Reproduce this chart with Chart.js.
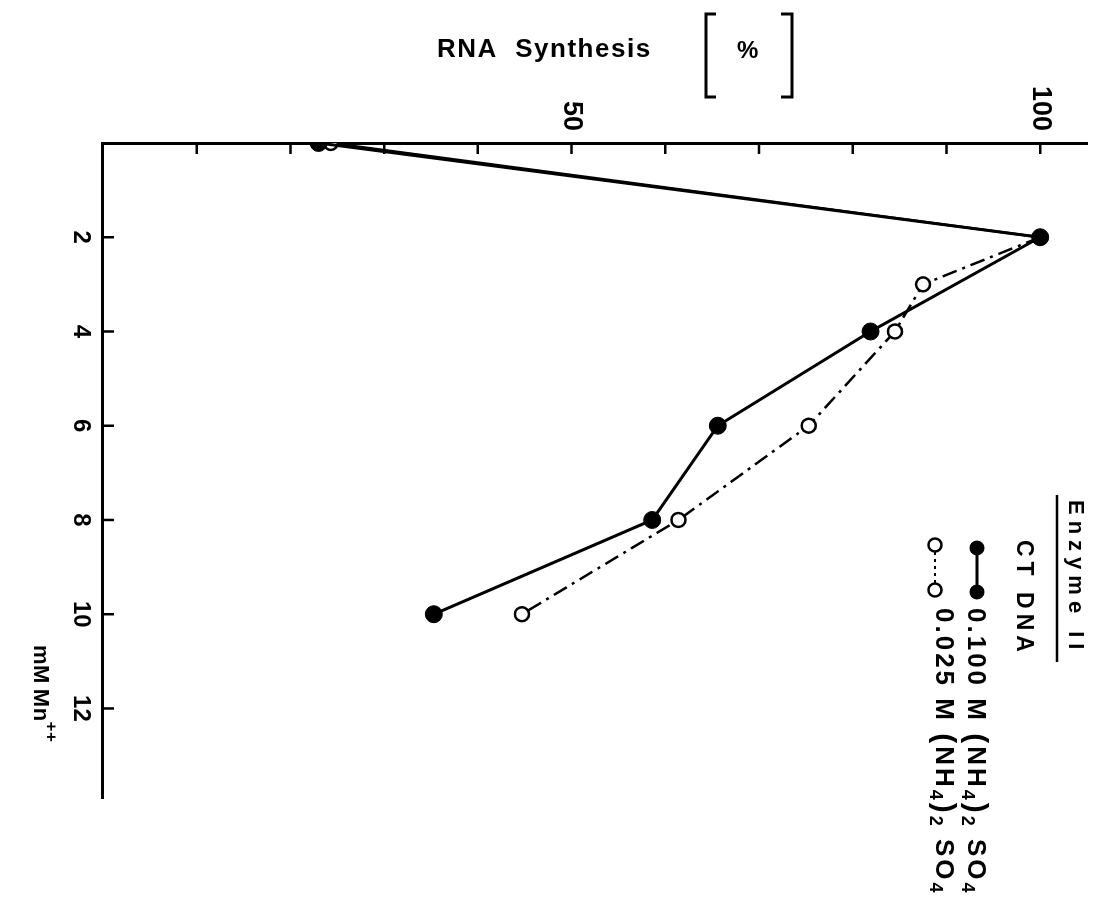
<!DOCTYPE html>
<html>
<head>
<meta charset="utf-8">
<script src="https://cdn.jsdelivr.net/npm/chart.js@4/dist/chart.umd.min.js"></script>
<style>
  html, body { margin: 0; padding: 0; background: #fff; overflow: hidden; }
  /* plot is laid out upright, then turned a quarter clockwise */
  #wrap { position: absolute; left: 0; top: 0; width: 902px; height: 1098px;
          transform-origin: 0 0; transform: translate(1098px, 0) rotate(90deg); }
</style>
</head>
<body>
<div id="wrap"><canvas id="plot" width="902" height="1098"></canvas></div>
<script>
// Mn++ concentration (mM) vs RNA synthesis (%)
const MN_HIGH  = [0, 2, 4, 6, 8, 10];
const RNA_HIGH = [23.0, 100, 81.9, 65.6, 58.6, 35.3];     // 0.100 M (NH4)2SO4
const MN_LOW   = [0, 2, 3, 4, 6, 8, 10];
const RNA_LOW  = [24.3, 100, 87.5, 84.5, 75.3, 61.4, 44.7]; // 0.025 M (NH4)2SO4

const MN_TICKS   = [2, 4, 6, 8, 10, 12];
const RNA_LABELS = [50, 100];
const RNA_MINOR  = [10, 20, 30, 40, 50, 60, 70, 80, 90, 100];

const W = 902, H = 1098;
const FONT = '"Liberation Sans", Arial, sans-serif';
const DASHDOT = [15, 6, 3, 6];

function pts(xs, ys) { return xs.map((v, i) => ({ x: v, y: ys[i] })); }

// draws a row of text runs [text, size, dy], returns end x
function runs(ctx, x, y, parts, spacing) {
  ctx.letterSpacing = (spacing || 0) + 'px';
  for (const [t, size, dy] of parts) {
    ctx.font = `bold ${size}px ${FONT}`;
    ctx.fillText(t, x, y + (dy || 0));
    x += ctx.measureText(t).width;
  }
  ctx.letterSpacing = '0px';
  return x;
}

function dot(ctx, x, y, r, filled) {
  ctx.beginPath();
  ctx.arc(x, y, r, 0, Math.PI * 2);
  if (filled) ctx.fill();
  else { ctx.fillStyle = '#fff'; ctx.fill(); ctx.fillStyle = '#000'; ctx.stroke(); }
}

const decor = {
  id: 'decor',
  afterDraw(chart) {
    const { ctx, scales: { x, y } } = chart;
    ctx.save();
    ctx.strokeStyle = '#000';
    ctx.fillStyle = '#000';

    // tick marks pointing into the plot
    ctx.lineWidth = 2.5;
    ctx.beginPath();
    MN_TICKS.forEach(v => {
      const p = x.getPixelForValue(v);
      ctx.moveTo(p, y.bottom); ctx.lineTo(p, y.bottom - 11);
    });
    RNA_MINOR.forEach(v => {
      const p = y.getPixelForValue(v);
      ctx.moveTo(x.left, p); ctx.lineTo(x.left + 11, p);
    });
    ctx.stroke();

    // x title: mM Mn++
    ctx.textBaseline = 'middle';
    runs(ctx, 645, 1058, [['mM', 22, 0], [' ', 16, 0], ['Mn', 22, 0], ['++', 17, -11]], 0.5);

    // legend
    runs(ctx, 500, 23, [['Enzyme II', 22, 0]], 6);
    ctx.lineWidth = 2.5;
    ctx.beginPath(); ctx.moveTo(495, 41); ctx.lineTo(662, 41); ctx.stroke();
    runs(ctx, 540, 75, [['CT DNA', 23, 0]], 5);

    ctx.lineWidth = 3;
    ctx.beginPath(); ctx.moveTo(548, 121); ctx.lineTo(592, 121); ctx.stroke();
    dot(ctx, 548, 121, 7.5, true);
    dot(ctx, 592, 121, 7.5, true);
    runs(ctx, 608, 123, [['0.100 M ', 26], ['(', 30], ['NH', 26], ['4', 18, 8], [')', 30],
                         ['2', 18, 8], [' SO', 26], ['4', 18, 8]], 3);

    ctx.lineWidth = 2;
    ctx.setLineDash([3, 4]);
    ctx.beginPath(); ctx.moveTo(545, 163); ctx.lineTo(590, 163); ctx.stroke();
    ctx.setLineDash([]);
    ctx.lineWidth = 2.5;
    dot(ctx, 545, 163, 6.5, false);
    dot(ctx, 590, 163, 6.5, false);
    runs(ctx, 608, 155, [['0.025 M ', 26], ['(', 30], ['NH', 26], ['4', 18, 8], [')', 30],
                         ['2', 18, 8], [' SO', 26], ['4', 18, 8]], 3);

    // y title, written across the page after the turn
    ctx.translate(0, H);
    ctx.rotate(-Math.PI / 2);
    ctx.textBaseline = 'middle';
    runs(ctx, 437, 50, [['RNA  Synthesis', 26, 0]], 1.5);
    runs(ctx, 737, 51, [['%', 24, 0]], 0);
    ctx.lineWidth = 3;
    ctx.beginPath();
    ctx.moveTo(716, 14); ctx.lineTo(706, 14); ctx.lineTo(706, 97); ctx.lineTo(716, 97);
    ctx.moveTo(781, 14); ctx.lineTo(792, 14); ctx.lineTo(792, 97); ctx.lineTo(781, 97);
    ctx.stroke();
    ctx.restore();
  }
};

new Chart(document.getElementById('plot'), {
  type: 'scatter',
  data: {
    datasets: [
      {
        data: pts(MN_HIGH, RNA_HIGH),
        showLine: true,
        borderColor: '#000',
        borderWidth: 3,
        pointRadius: 8.5,
        pointBackgroundColor: '#000',
        pointBorderColor: '#000',
        pointBorderWidth: 1
      },
      {
        data: pts(MN_LOW, RNA_LOW),
        showLine: true,
        borderColor: '#000',
        borderWidth: 2.5,
        borderDash: DASHDOT,
        segment: { borderDash: c => c.p0DataIndex === 0 ? [] : DASHDOT },
        pointRadius: 7,
        pointBackgroundColor: '#fff',
        pointBorderColor: '#000',
        pointBorderWidth: 2.5
      }
    ]
  },
  options: {
    responsive: false,
    animation: false,
    devicePixelRatio: 1,
    layout: { padding: { top: 11, right: 104, left: 0, bottom: 0 } },
    plugins: { legend: { display: false }, tooltip: { enabled: false } },
    scales: {
      x: {
        type: 'linear', min: 0, max: 13.9,
        grid: { display: true, drawOnChartArea: false, drawTicks: false },
        border: { display: true, color: '#000', width: 3 },
        ticks: {
          stepSize: 2, maxRotation: 0, autoSkip: false, padding: 8, color: '#000',
          font: { family: FONT, size: 24, weight: 'bold' },
          callback: v => MN_TICKS.includes(v) ? String(v) : ''
        },
        afterFit: s => { s.height = 103; s.paddingRight = 0; }
      },
      y: {
        type: 'linear', min: 0, max: 105,
        grid: { display: true, drawOnChartArea: false, drawTicks: false },
        border: { display: true, color: '#000', width: 3 },
        ticks: {
          stepSize: 10, autoSkip: false, padding: 12, color: '#000',
          font: { family: FONT, size: 27, weight: 'bold' },
          callback: v => RNA_LABELS.includes(v) ? String(v) : ''
        },
        afterFit: s => { s.width = 143; s.paddingTop = 0; }
      }
    }
  },
  plugins: [decor]
});
</script>
</body>
</html>
